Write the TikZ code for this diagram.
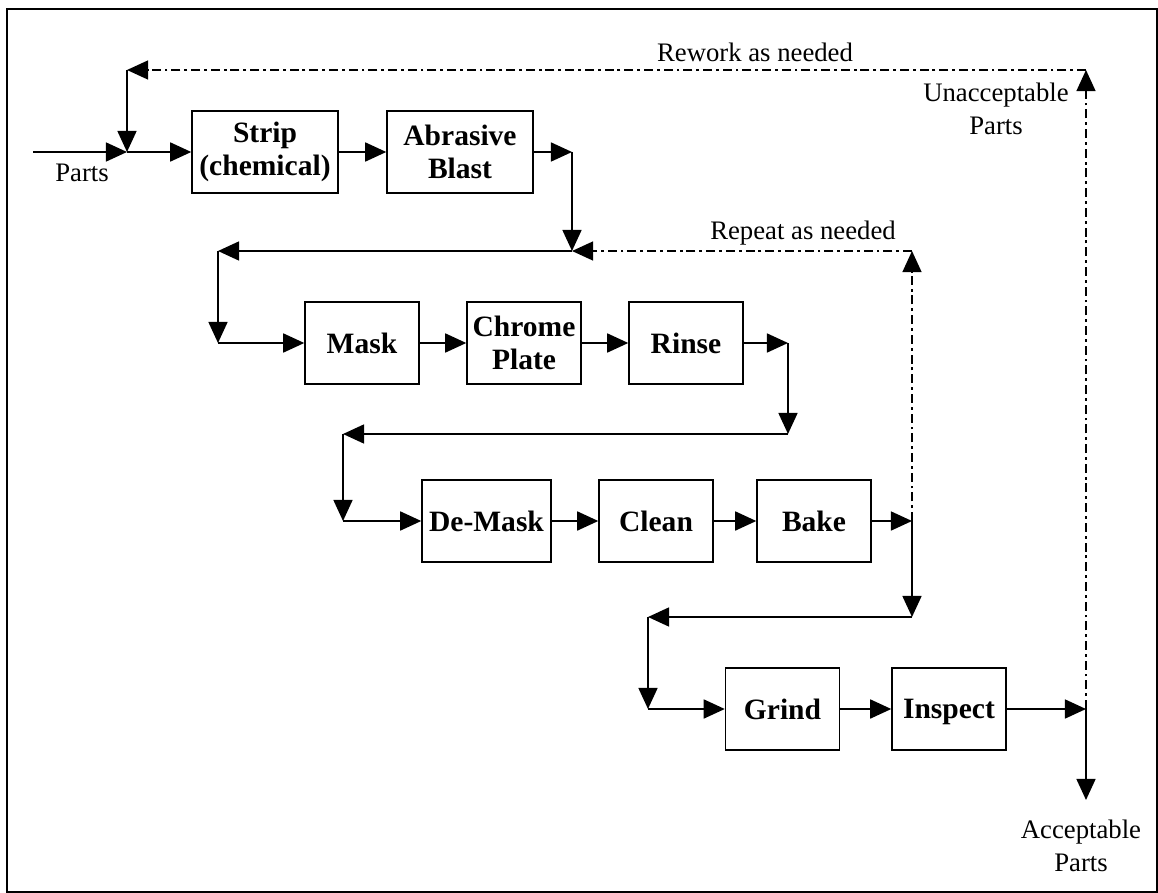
\documentclass[tikz,border=0pt]{standalone}
\usepackage{fontspec}
\setmainfont{Liberation Serif}
\usepackage{tikz}
\usetikzlibrary{arrows.meta}

\begin{document}
\begin{tikzpicture}[
    x=0.025cm, y=-0.025cm,
    every node/.style={font=\fontsize{19}{23}\selectfont},
    st/.style={rectangle, draw, line width=1pt, minimum width=2.85cm,
               minimum height=2.05cm, inner sep=0pt, align=center,
               font=\fontsize{21}{23.5}\selectfont\bfseries},
    e/.style={line width=1.3pt, -{Triangle[length=15pt, width=13.5pt]}},
    fb/.style={line width=1.1pt,
               dash pattern=on 6.4pt off 2.8pt on 2pt off 2.8pt},
    lbl/.style={align=center, inner sep=0pt},
  ]
  \useasboundingbox (0,0) rectangle (1158,893);
  \draw[line width=1.6pt] (7,9) rectangle (1157,892);
  % stages
  \node[st, minimum width=3.65cm] (strip) at (265,152) {Strip\\(chemical)};
  \node[st, minimum width=3.65cm] (abr) at (460,152) {Abrasive\\Blast};
  \node[st] (mask) at (362,343) {Mask};
  \node[st] (chrome) at (524,343) {Chrome\\Plate};
  \node[st] (rinse) at (686,343) {Rinse};
  \node[st, minimum width=3.225cm] (demask) at (486.5,521) {De-Mask};
  \node[st] (clean) at (656,521) {Clean};
  \node[st] (bake) at (814,521) {Bake};
  \node[st] (grind) at (782.5,709) {Grind};
  \node[st, text depth=0pt] (insp) at (949,709) {Inspect};
  % corners of the connectors
  \coordinate (in) at (33,152);
  \coordinate (j1) at (127,152);
  \coordinate (rw1) at (127,70);
  \coordinate (rw2) at (1086,70);
  \coordinate (a1) at (572,152);
  \coordinate (a2) at (572,251);
  \coordinate (a3) at (218,251);
  \coordinate (a4) at (218,343);
  \coordinate (r1) at (788,343);
  \coordinate (r2) at (788,434);
  \coordinate (r3) at (343,434);
  \coordinate (r4) at (343,521);
  \coordinate (b1) at (912,521);
  \coordinate (b2) at (912,617);
  \coordinate (b3) at (648,617);
  \coordinate (b4) at (648,709);
  \coordinate (rp) at (912,251);
  \coordinate (i1) at (1086,709);
  \coordinate (out) at (1086,800);
  % labels
  \node[lbl] (lin) at (82,173) {Parts};
  \node[lbl] (lrw) at (755,52) {Rework as needed};
  \node[lbl] (lun) at (996,109) {Unacceptable\\Parts};
  \node[lbl] (lrp) at (803,233) {Repeat as needed};
  \node[lbl] (lac) at (1081,846) {Acceptable\\Parts};
  % main flow
  \draw[e] (in) -- (j1);
  \draw[e] (j1) -- (strip);
  \draw[e] (strip) -- (abr);
  \draw[e] (abr) -- (a1);
  \draw[e] (a1) -- (a2);
  \draw[e] (a2) -- (a3);
  \draw[e] (a3) -- (a4);
  \draw[e] (a4) -- (mask);
  \draw[e] (mask) -- (chrome);
  \draw[e] (chrome) -- (rinse);
  \draw[e] (rinse) -- (r1);
  \draw[e] (r1) -- (r2);
  \draw[e] (r2) -- (r3);
  \draw[e] (r3) -- (r4);
  \draw[e] (r4) -- (demask);
  \draw[e] (demask) -- (clean);
  \draw[e] (clean) -- (bake);
  \draw[e] (bake) -- (b1);
  \draw[e] (b1) -- (b2);
  \draw[e] (b2) -- (b3);
  \draw[e] (b3) -- (b4);
  \draw[e] (b4) -- (grind);
  \draw[e] (grind) -- (insp);
  \draw[e] (insp) -- (i1);
  \draw[e] (i1) -- (out);
  % loops back
  \draw[e, fb] (b1) -- (rp);
  \draw[e, fb] (rp) -- (a2);
  \draw[e, fb] (i1) -- (rw2);
  \draw[e, fb] (rw2) -- (rw1);
  \draw[e] (rw1) -- (j1);
\end{tikzpicture}
\end{document}
